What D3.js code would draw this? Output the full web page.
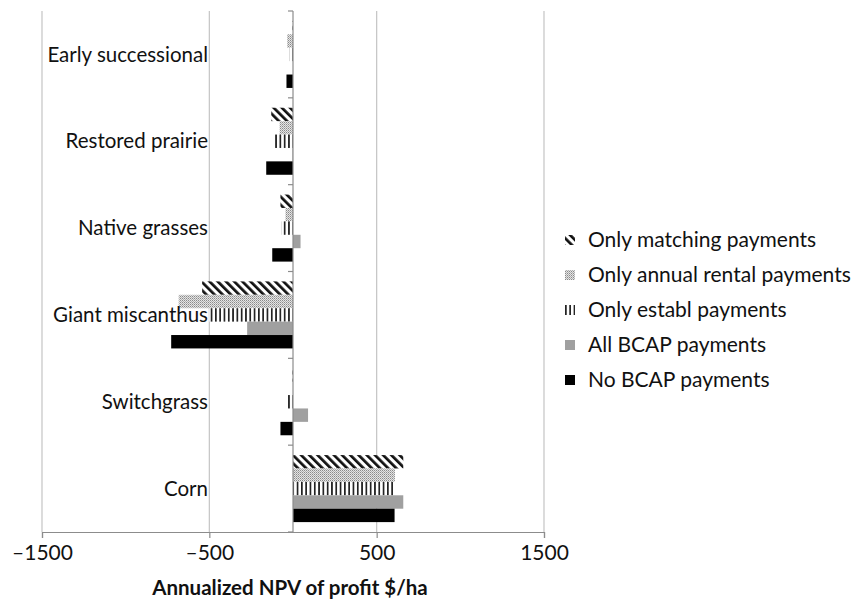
<!DOCTYPE html>
<html>
<head>
<meta charset="utf-8">
<script src="https://cdn.jsdelivr.net/npm/d3@7"></script>
<style>
  html, body { margin: 0; padding: 0; background: #fff; }
  svg { display: block; font-family: Lato, "Open Sans", sans-serif; }
</style>
</head>
<body>
<svg id="chart" width="852" height="602"></svg>
<script>
const categories = ["Early successional", "Restored prairie", "Native grasses", "Giant miscanthus", "Switchgrass", "Corn"];
const seriesNames = ["Only matching payments", "Only annual rental payments", "Only establ payments", "All BCAP payments", "No BCAP payments"];
const onlyMatching = [-3, -130, -75, -543, -3, 659];
const onlyAnnualRental = [-35, -80, -45, -683, 0, 609];
const onlyEstabl = [-19, -115, -70, -500, -40, 603];
const allBCAP = [0, -3, 45, -274, 90, 659];
const noBCAP = [-39, -160, -124, -728, -75, 607];
const xTicks = [-1500, -500, 500, 1500];
const xTitle = "Annualized NPV of profit $/ha";

const seriesValues = [onlyMatching, onlyAnnualRental, onlyEstabl, allBCAP, noBCAP];
const fills = ["url(#pMatch)", "url(#pRental)", "url(#pEstabl)", "#a0a0a0", "#000"];

const svg = d3.select("#chart");
const defs = svg.append("defs");

const pM = defs.append("pattern").attr("id", "pMatch").attr("patternUnits", "userSpaceOnUse")
  .attr("width", 5.8).attr("height", 10).attr("patternTransform", "rotate(-45)");
pM.append("rect").attr("width", 5.8).attr("height", 10).attr("fill", "#fff");
pM.append("rect").attr("width", 2.7).attr("height", 10).attr("fill", "#111");

const pR = defs.append("pattern").attr("id", "pRental").attr("patternUnits", "userSpaceOnUse")
  .attr("width", 2).attr("height", 2);
pR.append("rect").attr("width", 2).attr("height", 2).attr("fill", "#e4e4e4");
pR.append("rect").attr("width", 1).attr("height", 1).attr("fill", "#8a8a8a");
pR.append("rect").attr("x", 1).attr("y", 1).attr("width", 1).attr("height", 1).attr("fill", "#b0b0b0");

const pE = defs.append("pattern").attr("id", "pEstabl").attr("patternUnits", "userSpaceOnUse")
  .attr("width", 4.3).attr("height", 10);
pE.append("rect").attr("width", 4.3).attr("height", 10).attr("fill", "#fff");
pE.append("rect").attr("width", 1.7).attr("height", 10).attr("fill", "#222");

const x = d3.scaleLinear().domain([-1500, 1500]).range([42, 544]);
const y = d3.scaleBand().domain(categories).range([11, 532]).paddingInner(0.228).paddingOuter(0.114);
const ySub = d3.scaleBand().domain(d3.range(seriesNames.length)).range([0, y.bandwidth()]);

const plotTop = 11, plotBottom = 532;

svg.append("g").selectAll("line").data(xTicks).join("line")
  .attr("x1", d => x(d)).attr("x2", d => x(d))
  .attr("y1", plotTop).attr("y2", plotBottom)
  .attr("stroke", "#c4c4c4").attr("stroke-width", 1.2);

const gBars = svg.append("g");
categories.forEach((c, ci) => {
  seriesValues.forEach((vals, si) => {
    const v = vals[ci];
    gBars.append("rect")
      .attr("x", Math.min(x(0), x(v)))
      .attr("y", y(c) + ySub(si))
      .attr("width", Math.abs(x(v) - x(0)))
      .attr("height", ySub.bandwidth())
      .attr("fill", fills[si]);
  });
});

const xAxis = d3.axisBottom(x).tickValues(xTicks).tickSize(6).tickPadding(7)
  .tickFormat(d => (d < 0 ? "\u2013" : "") + Math.abs(d));
const gx = svg.append("g").attr("transform", `translate(0,${plotBottom})`).call(xAxis);
gx.select(".domain").attr("stroke", "#8c8c8c").attr("stroke-width", 1.2);
gx.selectAll(".tick line").attr("stroke", "#8c8c8c").attr("stroke-width", 1.2);
gx.selectAll(".tick text").attr("font-size", 21).attr("fill", "#111").attr("font-family", "Lato, sans-serif");

const catAxisX = x(0);
svg.append("line").attr("x1", catAxisX).attr("x2", catAxisX).attr("y1", plotTop).attr("y2", plotBottom)
  .attr("stroke", "#8c8c8c").attr("stroke-width", 1.2);
const boundaries = categories.map(c => y(c) - y.step() * y.paddingInner() / 2).concat([plotBottom]);
svg.append("g").selectAll("line").data(boundaries).join("line")
  .attr("x1", catAxisX - 5).attr("x2", catAxisX).attr("y1", d => d).attr("y2", d => d)
  .attr("stroke", "#8c8c8c").attr("stroke-width", 1.2);

svg.append("g").selectAll("text").data(categories).join("text")
  .attr("x", 208).attr("y", d => y(d) + y.bandwidth() / 2)
  .attr("dy", "0.35em").attr("text-anchor", "end")
  .attr("font-size", 20.5).attr("fill", "#111").text(d => d);

svg.append("text").attr("x", 290).attr("y", 595).attr("text-anchor", "middle")
  .attr("font-size", 20.5).attr("font-weight", "bold").attr("fill", "#111").text(xTitle);

const leg = svg.append("g").attr("transform", "translate(565,240)");
seriesNames.forEach((s, i) => {
  const g = leg.append("g").attr("transform", `translate(0,${i * 35})`);
  g.append("rect").attr("x", 0).attr("y", -5).attr("width", 10).attr("height", 10).attr("fill", fills[i]);
  g.append("text").attr("x", 23).attr("y", 0).attr("dy", "0.35em")
    .attr("font-size", 21).attr("fill", "#111").text(s);
});
</script>
</body>
</html>
